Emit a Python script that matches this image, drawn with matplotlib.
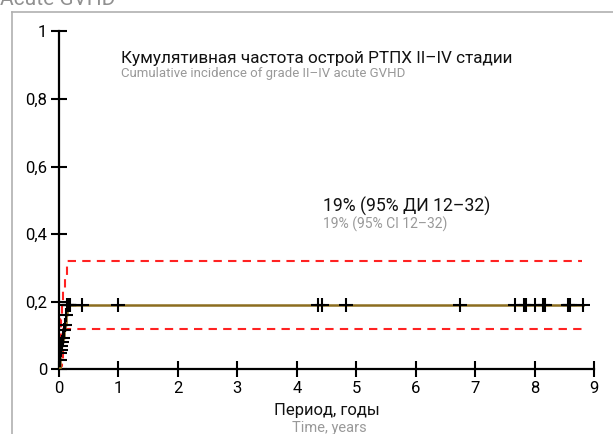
import matplotlib.pyplot as plt
import numpy as np

plt.rcParams['font.family'] = ['Roboto', 'DejaVu Sans']

# cumulative incidence steps (years, fraction)
event_t = [0, 0.01, 0.02, 0.03, 0.04, 0.05, 0.06, 0.08, 0.10, 0.12, 0.13, 8.82]
cif = [0, 0.027, 0.048, 0.058, 0.070, 0.082, 0.093, 0.117, 0.132, 0.162, 0.19, 0.19]

# 95% confidence band
ci_t = [0, 0.01, 0.03, 0.05, 0.07, 0.10, 0.13, 8.80]
ci_upper = [0, 0.09, 0.15, 0.19, 0.24, 0.28, 0.32, 0.32]
ci_lower = [0, 0.0, 0.01, 0.03, 0.12, 0.12, 0.12, 0.12]

# censored observations
censor_t = [0.01, 0.02, 0.03, 0.04, 0.05, 0.06, 0.08, 0.10, 0.12,
            0.14, 0.15, 0.16, 0.17, 0.18, 0.38, 1.0, 4.36, 4.42, 4.83,
            6.75, 7.67, 7.83, 7.86, 8.01, 8.15, 8.18, 8.56, 8.58, 8.60, 8.81]

x_ticks = list(range(10))
y_ticks = [0, 0.2, 0.4, 0.6, 0.8, 1]
y_tick_labels = ['0', '0,2', '0,4', '0,6', '0,8', '1']

W, H = 613, 434


def px(x, y):
    # pixel position from top-left -> figure fraction
    return x / W, 1 - y / H


fig = plt.figure(figsize=(W / 100, H / 100), dpi=100)

# outer panel border and section title (title sits mostly above the panel)
fig.add_artist(plt.Line2D([12 / W, 12 / W], [0, 1 - 12 / H], transform=fig.transFigure,
                          color='#b0b0b0', lw=1.2))
fig.add_artist(plt.Line2D([12 / W, 1], [1 - 12 / H, 1 - 12 / H], transform=fig.transFigure,
                          color='#b0b0b0', lw=1.2))
fig.text(*px(0, 5), 'Acute GVHD', fontsize=15, color='#909090', va='baseline', ha='left')

ax = fig.add_axes([59 / W, 1 - 369.3 / H, 535 / W, 338 / H])

ax.step(event_t, cif, where='post', color='#8c6d1f', lw=1.8, zorder=3)
ax.step(ci_t, ci_upper, where='post', color='#ff2222', lw=1.5, dashes=(4, 3), zorder=2)
ax.step(ci_t, ci_lower, where='post', color='#ff2222', lw=1.5, dashes=(4, 3), zorder=2)

censor_y = [cif[np.searchsorted(event_t, t, side='right') - 1] for t in censor_t]
ax.plot(censor_t, censor_y, linestyle='none', marker='+', markersize=10,
        markeredgewidth=1.5, color='black', zorder=4)

ax.set_xlim(0, 9)
ax.set_ylim(0, 1)
ax.set_xticks(x_ticks)
ax.set_yticks(y_ticks)
ax.set_yticklabels(y_tick_labels)
for side in ('top', 'right'):
    ax.spines[side].set_visible(False)
for side in ('left', 'bottom'):
    ax.spines[side].set_linewidth(1.6)
ax.tick_params(direction='inout', length=11, width=1.5, labelsize=12, pad=3)

fig.text(*px(121, 59), 'Кумулятивная частота острой РТПХ II–IV стадии',
         fontsize=12.3, color='#111111', va='center')
fig.text(*px(121, 74), 'Cumulative incidence of grade II–IV acute GVHD',
         fontsize=9.5, color='#999999', va='center')

fig.text(*px(323, 206), '19% (95% ДИ 12–32)', fontsize=12.7, color='#111111', va='center')
fig.text(*px(323, 224), '19% (95% CI 12–32)', fontsize=10, color='#999999', va='center')

fig.text(*px(327, 411), 'Период, годы', fontsize=12, color='#111111', va='center', ha='center')
fig.text(*px(329, 428), 'Time, years', fontsize=10.5, color='#999999', va='center', ha='center')

fig.savefig('out.png', dpi=100)
